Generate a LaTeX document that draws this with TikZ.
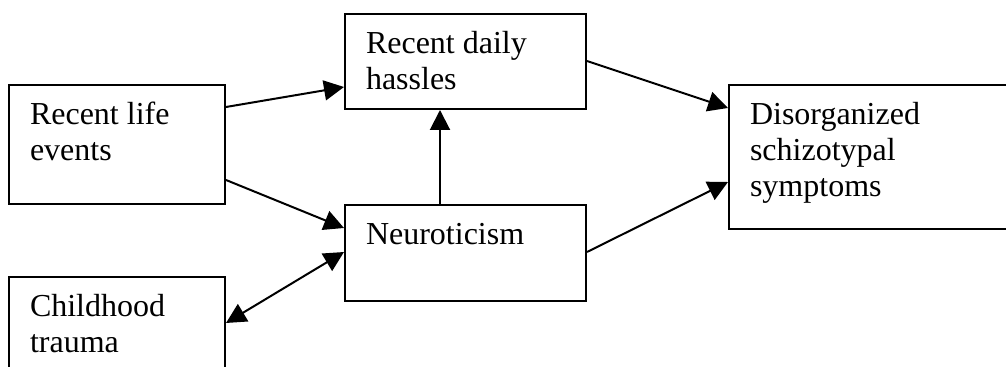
\documentclass[tikz,border=0pt]{standalone}
\usepackage{fontspec}
\setmainfont{Liberation Serif}
\usetikzlibrary{arrows.meta}

\begin{document}
\begin{tikzpicture}[x=0.5pt,y=-0.5pt,>={Triangle[length=10pt,width=10pt]},
box/.style n args={3}{draw,line width=1pt,anchor=north west,inner xsep=10.5pt,inner ysep=0pt,align=flush left,font=\fontsize{16}{18}\selectfont,text width=#1,text height=20pt,text depth=#2,minimum height=#3},
arr/.style={line width=1pt,->},
dbl/.style={line width=1pt,<->}]
\useasboundingbox (0,0) rectangle (1006,367);
\clip (0,0) rectangle (1006,367);
\node[box={87pt}{39.5pt}{59.5pt}] (life) at (8,84) {Recent life\\events};
\node[box={87pt}{40pt}{60pt}] (trauma) at (8,276) {Childhood\\trauma};
\node[box={99.5pt}{27.5pt}{47.5pt}] (hassles) at (344,13) {Recent daily\\hassles};
\node[box={99.5pt}{28pt}{48pt}] (neuro) at (344,204) {Neuroticism};
\node[box={129pt}{52pt}{72pt}] (symp) at (728,84) {Disorganized\\schizotypal\\symptoms};
\draw[arr] ([yshift=-11.5pt]life.north east) -- ([yshift=11.5pt]hassles.south west);
\draw[arr] ([yshift=-48pt]life.north east) -- ([yshift=-12pt]neuro.north west);
\draw[dbl] ([yshift=-23.5pt]trauma.north east) -- ([yshift=-24pt]neuro.north west);
\draw[arr] ([xshift=48pt]neuro.north west) -- ([xshift=48pt]hassles.south west);
\draw[arr] ([yshift=-24pt]hassles.north east) -- ([yshift=-12pt]symp.north west);
\draw[arr] ([yshift=-24pt]neuro.north east) -- ([yshift=-49pt]symp.north west);
\end{tikzpicture}
\end{document}
